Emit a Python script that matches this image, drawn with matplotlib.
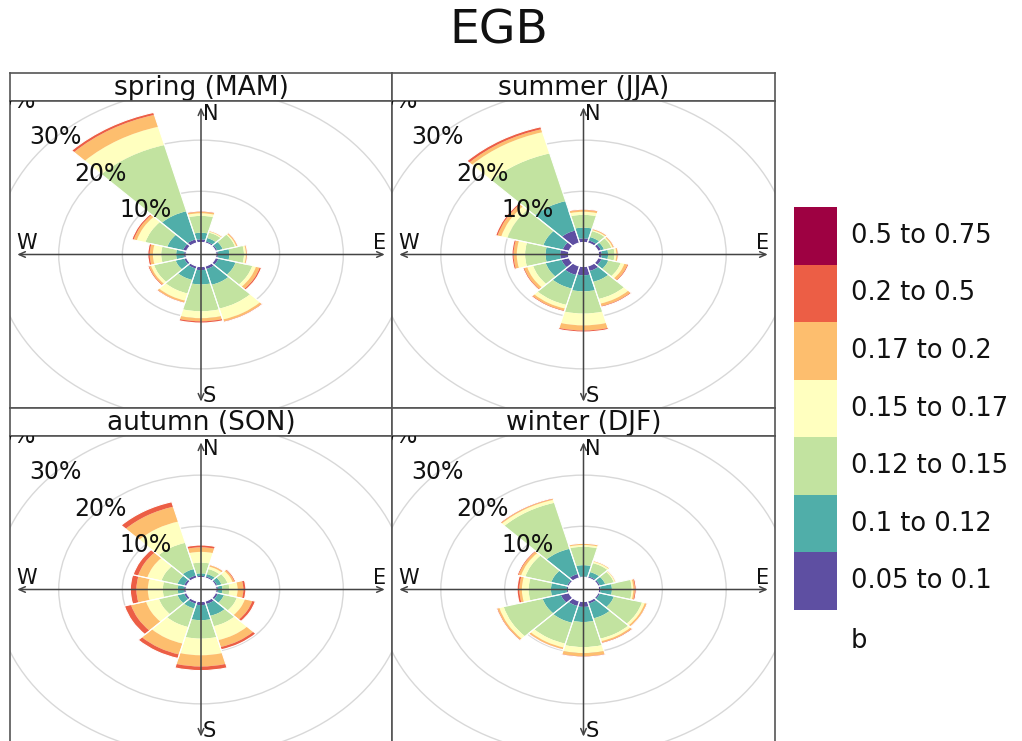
import numpy as np
import matplotlib
matplotlib.use("Agg")
import matplotlib.pyplot as plt
from matplotlib.patches import Wedge, Circle, Rectangle

# ---------------------------------------------------------------- data
# wind sectors (compass degrees, 30 deg bins) and pollutant bins of "b"
directions = [0, 30, 60, 90, 120, 150, 180, 210, 240, 270, 300, 330]
bin_labels = ["0.05 to 0.1", "0.1 to 0.12", "0.12 to 0.15", "0.15 to 0.17",
              "0.17 to 0.2", "0.2 to 0.5", "0.5 to 0.75"]
bin_colors = ["#5E4FA2", "#50AEA9", "#C2E3A0", "#FFFFBF",
              "#FDBE6E", "#EC5E45", "#9E0142"]

# cumulative frequency (%) at the top of each bin, one row per direction
spring_cum = [
    [0.6, 1.9, 5.2, 5.7, 6.0, 6.15],
    [0.3, 1.0, 2.1, 2.3, 2.45, 2.5],
    [0.3, 1.2, 3.2, 3.4, 3.6, 3.7],
    [0.3, 2.1, 4.4, 4.7, 4.85, 4.95],
    [0.5, 3.3, 6.0, 6.6, 7.2, 7.5],
    [0.6, 3.8, 8.6, 10.8, 11.2, 11.35],
    [0.7, 3.5, 8.75, 10.1, 10.7, 11.05],
    [0.5, 2.8, 5.55, 7.0, 7.35, 7.5],
    [0.4, 1.8, 5.3, 5.8, 6.1, 6.3],
    [0.3, 1.55, 3.9, 5.2, 5.7, 6.0],
    [0.6, 3.15, 6.7, 8.1, 8.6, 8.9],
    [0.7, 6.4, 19.8, 23.5, 25.9, 26.4],
]
summer_cum = [
    [0.8, 2.9, 5.4, 6.0, 6.35, 6.5],
    [0.5, 1.2, 2.4, 2.6, 2.8, 2.9],
    [0.5, 1.0, 2.2, 2.4, 2.6, 2.7],
    [0.5, 1.5, 2.5, 2.8, 3.0, 3.1],
    [0.6, 1.7, 3.7, 4.3, 4.8, 5.0],
    [1.0, 3.2, 6.65, 7.6, 8.1, 8.3],
    [1.7, 4.85, 9.2, 11.5, 12.5, 12.8],
    [1.8, 4.55, 7.85, 8.6, 9.0, 9.2],
    [1.25, 3.8, 5.85, 6.8, 7.3, 7.5],
    [1.3, 3.6, 6.8, 8.1, 8.6, 8.85],
    [1.05, 4.2, 10.0, 11.0, 11.6, 11.9],
    [2.5, 8.45, 18.1, 22.4, 23.0, 23.5],
]
autumn_cum = [
    [0.3, 0.8, 2.9, 5.0, 5.9, 6.35],
    [0.3, 0.8, 1.8, 2.3, 2.6, 2.7],
    [0.3, 1.0, 2.0, 2.8, 3.1, 3.3],
    [0.3, 1.0, 2.1, 3.4, 4.3, 4.7],
    [0.4, 1.4, 3.5, 4.8, 6.0, 6.5],
    [0.6, 3.0, 5.1, 7.9, 9.3, 9.85],
    [0.7, 3.65, 7.25, 10.5, 12.7, 13.5],
    [0.5, 1.5, 5.25, 8.6, 10.8, 11.6],
    [0.4, 1.5, 4.5, 6.6, 9.05, 10.1],
    [0.3, 1.3, 3.65, 6.0, 7.8, 8.75],
    [0.4, 1.5, 4.1, 6.4, 7.9, 8.7],
    [0.5, 1.8, 7.1, 11.4, 14.4, 15.4],
]
winter_cum = [
    [0.2, 2.4, 6.0, 6.35, 6.6, 6.67],
    [0.3, 1.2, 3.0, 3.3, 3.45, 3.5],
    [0.3, 1.2, 2.6, 2.8, 2.9, 2.95],
    [0.3, 2.1, 5.2, 5.45, 5.7, 5.9],
    [0.3, 2.6, 7.15, 7.6, 7.9, 8.0],
    [0.5, 3.5, 7.6, 8.1, 8.4, 8.57],
    [1.05, 4.0, 8.9, 10.07, 10.7, 10.85],
    [1.0, 4.4, 8.6, 9.4, 9.75, 9.85],
    [1.35, 4.3, 10.6, 11.3, 11.6, 11.75],
    [0.25, 2.75, 6.25, 7.3, 7.7, 8.05],
    [0.3, 2.9, 7.1, 7.8, 8.2, 8.4],
    [0.8, 5.9, 15.2, 15.8, 16.0, 16.15],
]
seasons = ["spring (MAM)", "summer (JJA)", "autumn (SON)", "winter (DJF)"]
ring_pct = [10, 20, 30, 40]

OFFSET = 2.35   # hole in the middle, in % units
LIM = 30.0
W, H = 1022, 741
EDGE = "#555555"
TXT = "#111111"

fig = plt.figure(figsize=(W / 100, H / 100), dpi=100)
fig.text(499 / W, 1 - 31 / H, "EGB", ha="center", va="center", fontsize=34, color=TXT)

# panel boxes in pixels: (left, right, strip top, plot top, plot bottom)
boxes = [(10, 392, 73, 101, 408), (392, 775, 73, 101, 408),
         (10, 392, 408, 436, 743), (392, 775, 408, 436, 743)]
data = [spring_cum, summer_cum, autumn_cum, winter_cum]

for (x0, x1, s0, p0, p1), name, cum in zip(boxes, seasons, data):
    sax = fig.add_axes([x0 / W, 1 - p0 / H, (x1 - x0) / W, (p0 - s0) / H])
    sax.set_xticks([]); sax.set_yticks([])
    for sp in sax.spines.values():
        sp.set_color(EDGE); sp.set_linewidth(1.2)
    sax.text(0.5, 0.47, name, ha="center", va="center", fontsize=19, color=TXT,
             transform=sax.transAxes)

    ax = fig.add_axes([x0 / W, 1 - p1 / H, (x1 - x0) / W, (p1 - p0) / H])
    ax.set_xlim(-LIM, LIM); ax.set_ylim(-LIM, LIM)
    ax.set_xticks([]); ax.set_yticks([])
    for sp in ax.spines.values():
        sp.set_color(EDGE); sp.set_linewidth(1.2)

    for v in ring_pct:
        ax.add_patch(Circle((0, 0), OFFSET + v, fill=False, ec="#D8D8D8", lw=1.0, zorder=1))

    for d, row in zip(directions, cum):
        t1, t2 = 90 - d - 15, 90 - d + 15
        inner = 0.0
        for top, col in zip(row, bin_colors):
            if top > inner:
                ax.add_patch(Wedge((0, 0), OFFSET + top, t1, t2, width=top - inner,
                                   fc=col, ec="none", lw=0, zorder=2))
            inner = top
        ax.add_patch(Wedge((0, 0), OFFSET + row[-1], t1, t2, width=row[-1],
                           fc="none", ec="white", lw=0.8, zorder=2.5))

    arr = dict(arrowstyle="<->,head_length=0.45,head_width=0.2", color="#444444", lw=1.1)
    ax.annotate("", xy=(0, 29.3), xytext=(0, -29.3), arrowprops=arr, zorder=3)
    ax.annotate("", xy=(29.3, 0), xytext=(-29.3, 0), arrowprops=arr, zorder=3)
    kw = dict(fontsize=15, color=TXT, zorder=4)
    ax.text(0.3, 27.4, "N", ha="left", va="center", **kw)
    ax.text(0.3, -27.6, "S", ha="left", va="center", **kw)
    ax.text(-27.4, 0.3, "W", ha="center", va="bottom", **kw)
    ax.text(28.0, 0.3, "E", ha="center", va="bottom", **kw)

    ang = np.deg2rad(315)
    for v in ring_pct:
        r = OFFSET + v
        ax.text(r * np.sin(ang), r * np.cos(ang), f"{v}%", ha="center", va="center",
                fontsize=17, color=TXT, zorder=4, clip_on=True)

# ---------------------------------------------------------------- key
ky0, ky1 = 207, 610
lax = fig.add_axes([794 / W, 1 - ky1 / H, 43 / W, (ky1 - ky0) / H])
lax.set_xlim(0, 1); lax.set_ylim(0, len(bin_colors)); lax.axis("off")
step = (ky1 - ky0) / len(bin_colors)
for i, (lab, col) in enumerate(zip(bin_labels, bin_colors)):
    lax.add_patch(Rectangle((0, i), 1, 1, fc=col, ec="none"))
    yc = ky1 - (i + 0.5) * step
    fig.text(851 / W, 1 - yc / H, lab, ha="left", va="center", fontsize=18.5, color=TXT)
fig.text(851 / W, 1 - 641 / H, "b", ha="left", va="center", fontsize=18.5, color=TXT)

fig.savefig("out.png", dpi=100)
